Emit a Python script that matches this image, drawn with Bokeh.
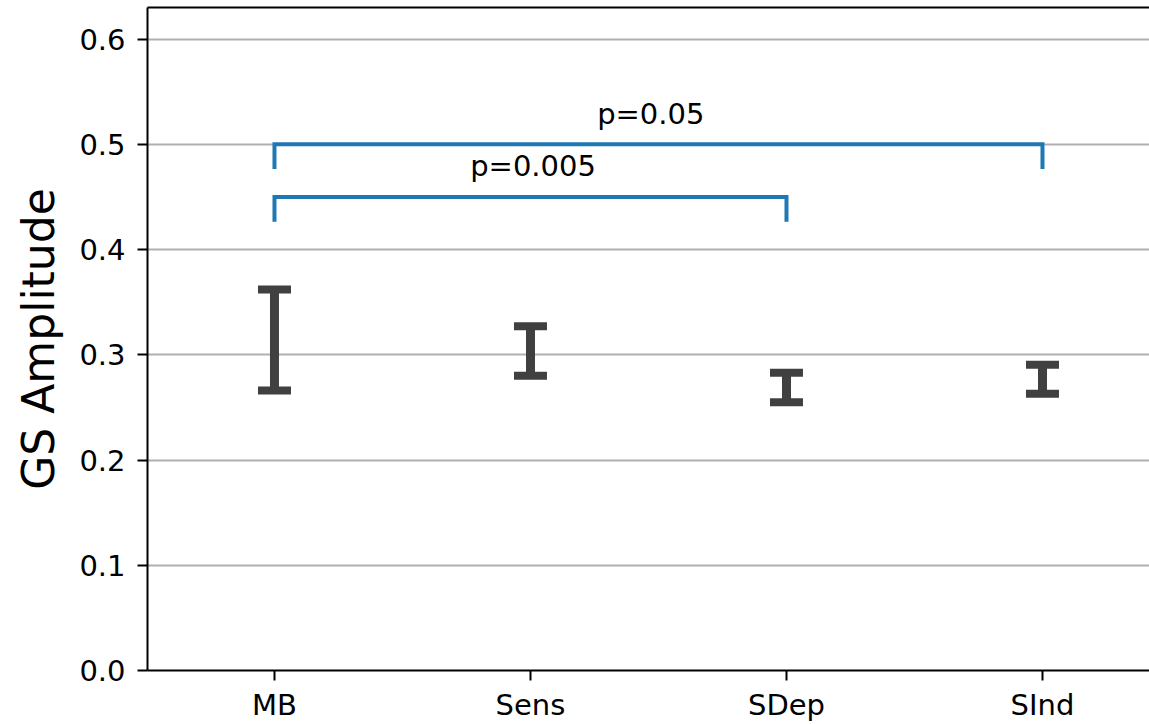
from bokeh.plotting import figure
from bokeh.models import ColumnDataSource, LinearAxis, FixedTicker, Range1d
from bokeh.core.properties import value
from bokeh.embed import file_html
from bokeh.resources import INLINE

# Group names and the confidence interval of GS amplitude for each
groups = ["MB", "Sens", "SDep", "SInd"]
ci_low = [0.266, 0.280, 0.255, 0.263]
ci_high = [0.362, 0.327, 0.283, 0.2905]

# Significance brackets: pairs of group indices, bracket height and p-value label
pair_left = [0, 0]
pair_right = [2, 3]
bracket_y = [0.45, 0.50]
bracket_drop = 0.0235
p_labels = ["p=0.005", "p=0.05"]
label_x = [1.01, 1.47]

y_ticks = [0.0, 0.1, 0.2, 0.3, 0.4, 0.5, 0.6]

FONT = "DejaVu Sans"
BAR_COLOR = "#404040"
BRACKET_COLOR = "#1f77b4"

xs = list(range(len(groups)))

p = figure(
    width=1149, height=724,
    x_range=Range1d(-0.496, 3.418), y_range=Range1d(0.0, 0.630),
    output_backend="svg", toolbar_location=None,
    min_border_left=147, min_border_right=0, min_border_top=7, min_border_bottom=53,
)
p.outline_line_color = None
p.background_fill_color = "white"
p.border_fill_color = "white"

# Axes
p.xaxis.ticker = FixedTicker(ticks=xs)
p.xaxis.major_label_overrides = {i: g for i, g in enumerate(groups)}
p.yaxis.ticker = FixedTicker(ticks=y_ticks)
p.yaxis.major_label_overrides = {t: f"{t:.1f}" for t in y_ticks}
for ax in (p.xaxis[0], p.yaxis[0]):
    ax.axis_line_width = 2
    ax.axis_line_color = "black"
    ax.major_tick_line_width = 2
    ax.major_tick_line_color = "black"
    ax.major_tick_out = 10
    ax.major_tick_in = 0
    ax.minor_tick_out = 0
    ax.minor_tick_in = 0
    ax.major_label_text_font = FONT
    ax.major_label_text_font_size = "29px"
    ax.major_label_text_color = "black"
p.xaxis.major_label_standoff = 7
p.yaxis.major_label_standoff = 12
p.yaxis.axis_label = "GS Amplitude"
p.yaxis.axis_label_text_font = FONT
p.yaxis.axis_label_text_font_size = "44px"
p.yaxis.axis_label_text_font_style = "normal"
p.yaxis.axis_label_text_color = "black"
p.yaxis.axis_label_standoff = 12

# Top spine
top = LinearAxis(ticker=FixedTicker(ticks=[]), axis_line_width=2, axis_line_color="black",
                 major_tick_out=0, major_tick_in=0, minor_tick_out=0, minor_tick_in=0,
                 major_label_text_font_size="0px")
p.add_layout(top, "above")

# Grid
p.xgrid.grid_line_color = None
p.ygrid.grid_line_color = "#b0b0b0"
p.ygrid.grid_line_width = 2

# Error bars
src = ColumnDataSource(dict(x=xs, lo=ci_low, hi=ci_high))
p.segment(x0="x", y0="lo", x1="x", y1="hi", source=src,
          line_color=BAR_COLOR, line_width=9, line_cap="butt")
p.rect(x="x", y="lo", width=33, height=8, width_units="screen", height_units="screen",
       source=src, fill_color=BAR_COLOR, line_color=None)
p.rect(x="x", y="hi", width=33, height=8, width_units="screen", height_units="screen",
       source=src, fill_color=BAR_COLOR, line_color=None)

# Significance brackets
bx, by = [], []
for a, b, h in zip(pair_left, pair_right, bracket_y):
    bx.append([a, a, b, b])
    by.append([h - bracket_drop, h, h, h - bracket_drop])
p.multi_line(xs=bx, ys=by, line_color=BRACKET_COLOR, line_width=4, line_join="miter")

lab = ColumnDataSource(dict(x=label_x, y=[h + 0.029 for h in bracket_y], t=p_labels))
p.text(x="x", y="y", text="t", source=lab, text_font=value(FONT), text_font_size="29px",
       text_color="black", text_align="center", text_baseline="alphabetic")

open("out.html", "w").write(file_html(p, INLINE))
